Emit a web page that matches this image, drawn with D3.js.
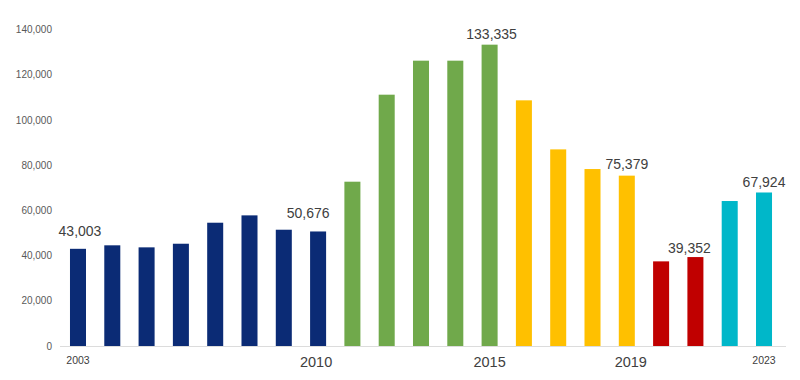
<!DOCTYPE html>
<html><head><meta charset="utf-8">
<script src="https://cdn.jsdelivr.net/npm/d3@7"></script>
<style>body{margin:0;background:#fff;}svg{display:block;font-family:Arial,"Liberation Sans",sans-serif;}</style>
</head><body>
<svg id="c" width="800" height="380"></svg>
<script>
const years = [2003,2004,2005,2006,2007,2008,2009,2010,2011,2012,2013,2014,2015,2016,2017,2018,2019,2020,2021,2022,2023];
const values = [43003,44550,43650,45250,54550,57800,51450,50676,72700,111200,126250,126250,133335,108700,87000,78300,75379,37450,39352,64150,67924];
const groups = ["a","a","a","a","a","a","a","a","b","b","b","b","b","c","c","c","c","d","d","e","e"];
const groupColors = {a:"#0b2b75", b:"#70a94b", c:"#ffc000", d:"#c00000", e:"#00b7c9"};
const labeledYears = [2003,2010,2015,2019,2021,2023];
const yTicks = [0,20000,40000,60000,80000,100000,120000,140000];
const xTickYears = [2003,2010,2015,2019,2023];
const xTickBig = [2010,2015,2019];

// label placement offsets (styling)
const labelOffsets = {2003:[2,-13],2010:[-10,-13],2015:[2,-6],2019:[0,-7],2021:[-6,-4],2023:[0,-5]};
const xTickOffsets = {2003:[0,0],2010:[-2,0],2015:[0,0],2019:[4,0],2023:[0,0]};

const svg = d3.select("#c");
const x = d3.scaleBand().domain(years).range([51.7,790.3]).paddingInner(0.533).paddingOuter(0.533);
const y = d3.scaleLinear().domain([0,140000]).range([346,29.6]);
const fmt = d3.format(",");

// y axis labels
svg.append("g").selectAll("text").data(yTicks).join("text")
  .attr("x",52).attr("y",d=>y(d)).attr("dy","0.35em")
  .attr("text-anchor","end").attr("font-size",10).attr("fill","#595959")
  .text(d=>fmt(d));

// baseline
svg.append("line").attr("x1",60).attr("x2",786).attr("y1",y(0)+0.5).attr("y2",y(0)+0.5)
  .attr("stroke","#dcdcdc").attr("stroke-width",1);

// bars
svg.append("g").selectAll("rect").data(years).join("rect")
  .attr("x",d=>x(d)).attr("width",x.bandwidth())
  .attr("y",(d,i)=>y(values[i])).attr("height",(d,i)=>y(0)-y(values[i]))
  .attr("fill",(d,i)=>groupColors[groups[i]]);

// value labels
svg.append("g").selectAll("text").data(labeledYears).join("text")
  .attr("x",d=>x(d)+x.bandwidth()/2+labelOffsets[d][0])
  .attr("y",d=>y(values[years.indexOf(d)])+labelOffsets[d][1])
  .attr("text-anchor","middle").attr("font-size",14).attr("fill","#404040")
  .text(d=>fmt(values[years.indexOf(d)]));

// x tick labels
svg.append("g").selectAll("text").data(xTickYears).join("text")
  .attr("x",d=>x(d)+x.bandwidth()/2+xTickOffsets[d][0])
  .attr("y",d=>xTickBig.includes(d)?367:364)
  .attr("text-anchor","middle")
  .attr("font-size",d=>xTickBig.includes(d)?14.5:10.5)
  .attr("fill","#404040")
  .text(d=>d);
</script>
</body></html>
